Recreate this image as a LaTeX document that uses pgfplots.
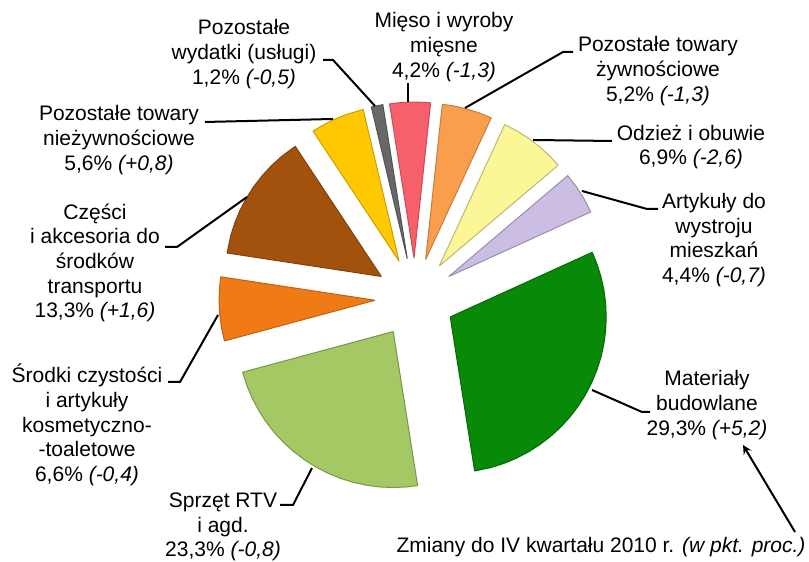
\documentclass[border=0pt]{standalone}
\usepackage{pgfplots}
\pgfplotsset{compat=1.18}
\usepackage{fontspec}
\setmainfont{Liberation Sans}
\definecolor{cMieso}{RGB}{247,96,106}
\definecolor{cZyw}{RGB}{249,158,76}
\definecolor{cOdz}{RGB}{251,247,150}
\definecolor{cArt}{RGB}{204,190,226}
\definecolor{cMat}{RGB}{8,138,8}
\definecolor{cRTV}{RGB}{164,200,100}
\definecolor{cSrod}{RGB}{240,122,22}
\definecolor{cCzes}{RGB}{163,82,14}
\definecolor{cNiez}{RGB}{255,200,0}
\definecolor{cWyd}{RGB}{104,104,104}
\tikzset{lbl/.style={align=center,inner sep=0pt,font=\fontsize{10.5}{12.35}\selectfont},
  lead/.style={black,line width=1pt}}
\begin{document}
\begin{tikzpicture}
\begin{axis}[
  width=404.5pt, height=280pt, scale only axis,
  xmin=-415, xmax=394, ymin=-262, ymax=298,
  hide axis, clip=false,
  every axis plot/.append style={line width=0.5pt, line join=round},
]
\path (axis cs:-415,-262) rectangle (axis cs:394,298);
% Mieso i wyroby miesne 4.2
\addplot[data cs=polar, fill=cMieso, draw=cMieso!80!black, xshift=-0.50pt, yshift=19.99pt]
  coordinates {(0,0) (99,156) (95,156) (90,156) (85,156) (83.88,156) (0,0)};
% Pozostale towary zywnosciowe 5.2
\addplot[data cs=polar, fill=cZyw, draw=cZyw!80!black, xshift=5.34pt, yshift=19.27pt]
  coordinates {(0,0) (83.88,156) (80,156) (75,156) (70,156) (65.16,156) (0,0)};
% Odziez i obuwie 6.9
\addplot[data cs=polar, fill=cOdz, draw=cOdz!75!black, xshift=12.11pt, yshift=15.92pt]
  coordinates {(0,0) (65.16,156) (60,156) (55,156) (50,156) (45,156) (40.32,156) (0,0)};
% Artykuly do wystroju mieszkan 4.4
\addplot[data cs=polar, fill=cArt, draw=cArt!75!black, xshift=16.89pt, yshift=10.72pt]
  coordinates {(0,0) (40.32,156) (35,156) (30,156) (24.48,156) (0,0)};
% Materialy budowlane 29.3
\addplot[data cs=polar, fill=cMat, draw=cMat!75!black, xshift=17.62pt, yshift=-9.47pt]
  coordinates {(0,0) (24.48,156) (20,156) (15,156) (10,156) (5,156) (0,156) (-5,156) (-10,156)
  (-15,156) (-20,156) (-25,156) (-30,156) (-35,156) (-40,156) (-45,156) (-50,156) (-55,156)
  (-60,156) (-65,156) (-70,156) (-75,156) (-81,156) (0,0)};
% Sprzet RTV i agd. 23.3
\addplot[data cs=polar, fill=cRTV, draw=cRTV!75!black, xshift=-10.88pt, yshift=-16.78pt]
  coordinates {(0,0) (-81,156) (-85,156) (-90,156) (-95,156) (-100,156) (-105,156) (-110,156)
  (-115,156) (-120,156) (-125,156) (-130,156) (-135,156) (-140,156) (-145,156) (-150,156)
  (-155,156) (-160,156) (-164.88,156) (0,0)};
% Srodki czystosci 6.6
\addplot[data cs=polar, fill=cSrod, draw=cSrod!80!black, xshift=-19.97pt, yshift=-1.13pt]
  coordinates {(0,0) (-164.88,156) (-170,156) (-175,156) (-180,156) (-185,156) (-188.64,156) (0,0)};
% Czesci i akcesoria 13.3
\addplot[data cs=polar, fill=cCzes, draw=cCzes!80!black, xshift=-16.85pt, yshift=10.77pt]
  coordinates {(0,0) (-188.64,156) (-195,156) (-200,156) (-205,156) (-210,156) (-215,156)
  (-220,156) (-225,156) (-230,156) (-236.52,156) (0,0)};
% Pozostale towary niezywnosciowe 5.6
\addplot[data cs=polar, fill=cNiez, draw=cNiez!80!black, xshift=-7.94pt, yshift=18.36pt]
  coordinates {(0,0) (-236.52,156) (-240,156) (-245,156) (-250,156) (-256.68,156) (0,0)};
% Pozostale wydatki 1.2
\addplot[data cs=polar, fill=cWyd, draw=cWyd!80!black, xshift=-3.87pt, yshift=19.62pt]
  coordinates {(0,0) (-256.68,156) (-261,156) (0,0)};

% leader lines
\draw[lead] (axis cs:-92,238) -- (axis cs:-82,238) -- (axis cs:-40,192);
\draw[lead] (axis cs:-210,176) -- (axis cs:-82,179);
\draw[lead] (axis cs:-250,51) -- (axis cs:-238,51) -- (axis cs:-168,101);
\draw[lead] (axis cs:-247,-84) -- (axis cs:-235,-84) -- (axis cs:-197,-17);
\draw[lead] (axis cs:-135,-207) -- (axis cs:-122,-207) -- (axis cs:-103,-170);
\draw[lead] (axis cs:-7,215) -- (axis cs:-7,196);
\draw[lead] (axis cs:158,246) -- (axis cs:148,246) -- (axis cs:50,190);
\draw[lead] (axis cs:197,157) -- (axis cs:118,158);
\draw[lead] (axis cs:243,89) -- (axis cs:232,89) -- (axis cs:167,107);
\draw[lead] (axis cs:235,-114) -- (axis cs:227,-114) -- (axis cs:177,-92);
\draw[lead,-stealth] (axis cs:380,-234) -- (axis cs:328,-147);

% labels
\node[lbl] at (axis cs:-171,244) {Pozostałe\\wydatki (usługi)\\1,2\% \textit{(-0,5)}};
\node[lbl] at (axis cs:-296,158) {Pozostałe towary\\nieżywnościowe\\5,6\% \textit{(+0,8)}};
\node[lbl] at (axis cs:-320,35) {Części\\i akcesoria do\\środków\\transportu\\13,3\% \textit{(+1,6)}};
\node[lbl] at (axis cs:-328,-127) {Środki czystości\\i artykuły\\kosmetyczno-\\-toaletowe\\6,6\% \textit{(-0,4)}};
\node[lbl] at (axis cs:-192,-229) {Sprzęt RTV\\i agd.\\23,3\% \textit{(-0,8)}};
\node[lbl] at (axis cs:29,251) {Mięso i wyroby\\mięsne\\4,2\% \textit{(-1,3)}};
\node[lbl] at (axis cs:243,227) {Pozostałe towary\\żywnościowe\\5,2\% \textit{(-1,3)}};
\node[lbl] at (axis cs:276,151) {Odzież i obuwie\\6,9\% \textit{(-2,6)}};
\node[lbl] at (axis cs:299,58) {Artykuły do\\wystroju\\mieszkań\\4,4\% \textit{(-0,7)}};
\node[lbl] at (axis cs:292,-107) {Materiały\\budowlane\\29,3\% \textit{(+5,2)}};
\node[lbl] at (axis cs:186,-249) {Zmiany do IV kwartału 2010 r. \textit{(w pkt. proc.)}};
\end{axis}
\end{tikzpicture}
\end{document}
